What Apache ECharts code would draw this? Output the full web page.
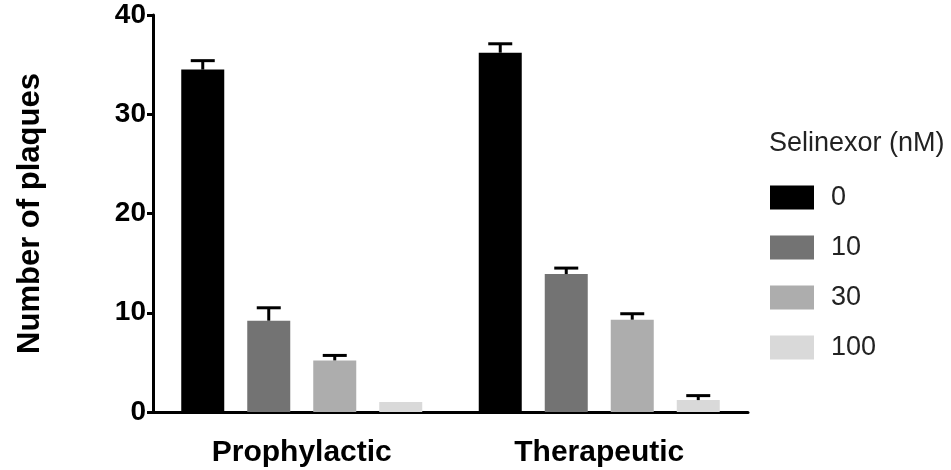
<!DOCTYPE html>
<html>
<head>
<meta charset="utf-8">
<script src="https://cdn.jsdelivr.net/npm/echarts@6/dist/echarts.min.js"></script>
<style>
  html, body { margin: 0; padding: 0; background: #fff; }
  #chart { width: 951px; height: 470px; }
</style>
</head>
<body>
<div id="chart"></div>
<script>
// data
const groups = ['Prophylactic', 'Therapeutic'];
const doses = ['0', '10', '30', '100'];
const mean0 = [34.5, 36.2];
const mean10 = [9.2, 13.9];
const mean30 = [5.2, 9.3];
const mean100 = [1.0, 1.2];
const sem0 = [0.9, 0.9];
const sem10 = [1.3, 0.6];
const sem30 = [0.5, 0.6];
const sem100 = [0, 0.45];
const yTicks = [0, 10, 20, 30, 40];

const means = [mean0, mean10, mean30, mean100];
const sems = [sem0, sem10, sem30, sem100];
const colors = ['#000000', '#737373', '#adadad', '#d9d9d9'];

const BAR_W = 43;
const STEP = 66;

const chart = echarts.init(document.getElementById('chart'));

const barSeries = doses.map(function (d, i) {
    return {
        name: d,
        type: 'bar',
        barWidth: BAR_W,
        barGap: ((STEP - BAR_W) / BAR_W * 100) + '%',
        itemStyle: { color: colors[i] },
        data: means[i],
        z: 2
    };
});

// error bars (upper only, like the original)
const errSeries = doses.map(function (d, i) {
    return {
        type: 'custom',
        z: 3,
        silent: true,
        data: groups.map(function (g, j) { return [j, means[i][j], sems[i][j]]; }),
        renderItem: function (params, api) {
            const err = api.value(2);
            if (!err) return null;
            const base = api.coord([api.value(0), api.value(1)]);
            const top = api.coord([api.value(0), api.value(1) + err]);
            const x = base[0] + (i - 1.5) * STEP;
            const style = { stroke: '#000', lineWidth: 3 };
            return {
                type: 'group',
                children: [
                    { type: 'line', shape: { x1: x, y1: base[1], x2: x, y2: top[1] }, style: style },
                    { type: 'line', shape: { x1: x - 12, y1: top[1], x2: x + 12, y2: top[1] }, style: style }
                ]
            };
        }
    };
});

const option = {
    animation: false,
    textStyle: { fontFamily: 'Liberation Sans, Arial, sans-serif' },
    title: {
        text: 'Selinexor (nM)',
        left: 769,
        top: 130,
        padding: 0,
        textStyle: { fontSize: 27, fontWeight: 'normal', color: '#222' }
    },
    legend: {
        orient: 'vertical',
        left: 770,
        top: 184,
        padding: 0,
        itemWidth: 44,
        itemHeight: 24,
        itemGap: 23,
        icon: 'rect',
        data: doses,
        textStyle: { fontSize: 27, color: '#222', padding: [0, 0, 0, 12] }
    },
    grid: {
        left: 153,
        top: 15,
        width: 595,
        height: 397,
        containLabel: false
    },
    xAxis: {
        type: 'category',
        data: groups,
        axisLine: { lineStyle: { color: '#000', width: 3 } },
        axisTick: { alignWithLabel: true, length: 6, lineStyle: { color: '#000', width: 3 } },
        axisLabel: { fontSize: 30, fontWeight: 'bold', color: '#000', margin: 26 }
    },
    yAxis: {
        type: 'value',
        min: yTicks[0],
        max: yTicks[yTicks.length - 1],
        interval: 10,
        name: 'Number of plaques',
        nameLocation: 'middle',
        nameGap: 107,
        nameTextStyle: { fontSize: 31, fontWeight: 'bold', color: '#000' },
        splitLine: { show: false },
        axisLine: { show: true, lineStyle: { color: '#000', width: 3 } },
        axisTick: { show: true, length: 6, lineStyle: { color: '#000', width: 3 } },
        axisLabel: { fontSize: 28, fontWeight: 'bold', color: '#000', margin: 7 }
    },
    series: barSeries.concat(errSeries)
};

chart.setOption(option);
</script>
</body>
</html>
